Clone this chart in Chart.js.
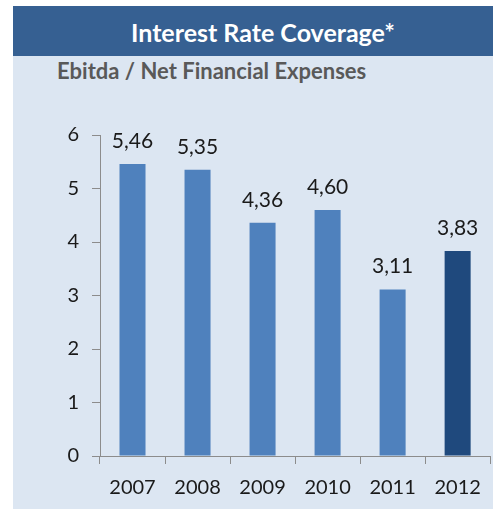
<!DOCTYPE html>
<html>
<head>
<meta charset="utf-8">
<script src="https://cdn.jsdelivr.net/npm/chart.js@4/dist/chart.umd.min.js"></script>
<style>
  html, body { margin: 0; padding: 0; background: #ffffff; }
  #wrap { position: relative; width: 493px; height: 510px; overflow: hidden; }
  #panel { position: absolute; left: 13px; top: 6px; width: 480px; height: 503px; background: #DCE6F2; }
  #head { position: absolute; left: 13px; top: 6px; width: 480px; height: 50px; background: #366092;
          color: #ffffff; font: bold 25px Lato, "Open Sans", sans-serif; line-height: 52px; text-align: center; text-indent: 20px; }
  #sub { position: absolute; left: 57px; top: 57px; color: #595959; font: bold 22px Lato, "Open Sans", sans-serif; line-height: 28px; }
  #chart { position: absolute; left: 0; top: 0; }
</style>
</head>
<body>
<div id="wrap">
  <div id="panel"></div>
  <div id="head">Interest Rate Coverage*</div>
  <div id="sub">Ebitda / Net Financial Expenses</div>
  <canvas id="chart" width="493" height="510"></canvas>
</div>
<script>
const years = ['2007', '2008', '2009', '2010', '2011', '2012'];
const coverage = [5.46, 5.35, 4.36, 4.60, 3.11, 3.83];
const yTicks = [0, 1, 2, 3, 4, 5, 6];

const barColors = years.map((y, i) => i === years.length - 1 ? '#1F497D' : '#4F81BD');
const fontFamily = 'Lato, "Open Sans", sans-serif';

// writes each bar's value above it, with a decimal comma
const valueLabels = {
  id: 'valueLabels',
  afterDatasetsDraw(chart) {
    const ctx = chart.ctx;
    const meta = chart.getDatasetMeta(0);
    ctx.save();
    ctx.font = '21px ' + fontFamily;
    ctx.fillStyle = '#1a1a1a';
    ctx.textAlign = 'center';
    ctx.textBaseline = 'middle';
    meta.data.forEach((bar, i) => {
      const v = chart.data.datasets[0].data[i];
      ctx.fillText(v.toFixed(2).replace('.', ','), bar.x, bar.y - 23);
    });
    ctx.restore();
  }
};

new Chart(document.getElementById('chart'), {
  type: 'bar',
  data: {
    labels: years,
    datasets: [{
      data: coverage,
      backgroundColor: barColors,
      borderWidth: 0,
      barPercentage: 0.8,
      categoryPercentage: 0.5
    }]
  },
  options: {
    responsive: false,
    animation: false,
    events: [],
    layout: { padding: { top: 135, right: 2, left: 0, bottom: 0 } },
    plugins: { legend: { display: false }, tooltip: { enabled: false }, title: { display: false } },
    scales: {
      x: {
        grid: { display: true, drawOnChartArea: false, drawTicks: true, tickLength: 8, color: '#8c8c8c', offset: true },
        border: { display: true, color: '#8c8c8c', width: 1 },
        ticks: { color: '#1a1a1a', font: { family: fontFamily, size: 20 }, padding: 12, maxRotation: 0 },
        afterFit(scale) { scale.height = 54; }
      },
      y: {
        min: 0,
        max: 6,
        afterBuildTicks(scale) { scale.ticks = yTicks.map(v => ({ value: v })); },
        grid: { display: true, drawOnChartArea: false, drawTicks: true, tickLength: 8, color: '#8c8c8c' },
        border: { display: true, color: '#8c8c8c', width: 1 },
        ticks: { color: '#1a1a1a', font: { family: fontFamily, size: 20 }, padding: 13 },
        afterFit(scale) { scale.width = 100; }
      }
    }
  },
  plugins: [valueLabels]
});
</script>
</body>
</html>
